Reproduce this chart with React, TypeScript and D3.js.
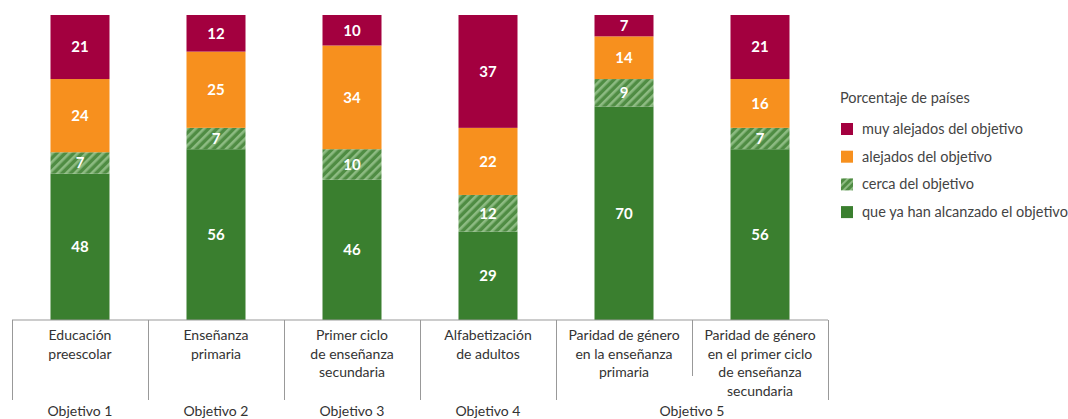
import React from "react";
import * as d3 from "d3";

const categories = [
  ["Educación", "preescolar"],
  ["Enseñanza", "primaria"],
  ["Primer ciclo", "de enseñanza", "secundaria"],
  ["Alfabetización", "de adultos"],
  ["Paridad de género", "en la enseñanza", "primaria"],
  ["Paridad de género", "en el primer ciclo", "de enseñanza", "secundaria"],
];
const goals = [
  { label: "Objetivo 1", from: 0, to: 0 },
  { label: "Objetivo 2", from: 1, to: 1 },
  { label: "Objetivo 3", from: 2, to: 2 },
  { label: "Objetivo 4", from: 3, to: 3 },
  { label: "Objetivo 5", from: 4, to: 5 },
];
const achieved = [48, 56, 46, 29, 70, 56];
const close = [7, 7, 10, 12, 9, 7];
const far = [24, 25, 34, 22, 14, 16];
const veryFar = [21, 12, 10, 37, 7, 21];
const seriesNames = [
  "muy alejados del objetivo",
  "alejados del objetivo",
  "cerca del objetivo",
  "que ya han alcanzado el objetivo",
];
const legendTitle = "Porcentaje de países";

const RED = "#a3003f";
const ORANGE = "#f7901e";
const GREEN = "#3a7f2f";
const FONT = "Lato, 'Open Sans', sans-serif";

export default function App() {
  const left = 12, right = 828, top = 15, base = 320;
  const x = d3.scaleBand<number>().domain(d3.range(categories.length)).range([left, right]);
  const y = d3.scaleLinear().domain([0, 100]).range([base, top]);
  const barW = 59;

  const stackKeys = ["achieved", "close", "far", "veryFar"];
  const rows = categories.map((_, i) => ({
    achieved: achieved[i], close: close[i], far: far[i], veryFar: veryFar[i],
  }));
  const stacked = d3.stack<any>().keys(stackKeys)(rows);
  const fills: Record<string, string> = {
    achieved: GREEN, close: "url(#hatch)", far: ORANGE, veryFar: RED,
  };

  const lineH = 18.5;
  const legendX = 840;
  const legendItems = [
    { name: seriesNames[0], fill: RED },
    { name: seriesNames[1], fill: ORANGE },
    { name: seriesNames[2], fill: "url(#hatchL)" },
    { name: seriesNames[3], fill: GREEN },
  ];

  return (
    <svg width={1068} height={419} style={{ position: "absolute", left: 0, top: 0 }} fontFamily={FONT}>
      <defs>
        <pattern id="hatch" patternUnits="userSpaceOnUse" width="6" height="6" patternTransform="rotate(45)">
          <rect width="6" height="6" fill="#4f8c43" />
          <rect width="2.6" height="6" fill="#8dbb82" />
        </pattern>
        <pattern id="hatchL" patternUnits="userSpaceOnUse" width="5" height="5" patternTransform="rotate(45)">
          <rect width="5" height="5" fill="#4f8c43" />
          <rect width="2" height="5" fill="#8dbb82" />
        </pattern>
      </defs>
      {stacked.map((layer) =>
        layer.map((d, i) => {
          const cx = (x(i) as number) + x.bandwidth() / 2;
          const y0 = y(d[1]);
          const y1 = y(d[0]);
          return (
            <g key={layer.key + i}>
              <rect x={cx - barW / 2} y={y0} width={barW} height={y1 - y0} fill={fills[layer.key]} />
              <text x={cx} y={(y0 + y1) / 2} dy="0.36em" textAnchor="middle" fill="#fff"
                fontWeight="bold" fontSize={15}>
                {d[1] - d[0]}
              </text>
            </g>
          );
        })
      )}
      <line x1={left} x2={right} y1={base} y2={base} stroke="#999" strokeWidth={1} />
      {d3.range(categories.length + 1).map((i) => {
        const xx = i === categories.length ? right : (x(i) as number);
        const isInner = i === 5;
        return (
          <line key={"v" + i} x1={xx + 0.5} x2={xx + 0.5} y1={base} y2={isInner ? 376 : 400}
            stroke="#999" strokeWidth={1} />
        );
      })}
      {categories.map((lines, i) => {
        const cx = (x(i) as number) + x.bandwidth() / 2;
        return (
          <text key={"c" + i} textAnchor="middle" fontSize={14} fill="#333">
            {lines.map((l, j) => (
              <tspan key={j} x={cx} y={340 + j * lineH}>{l}</tspan>
            ))}
          </text>
        );
      })}
      {goals.map((g, i) => {
        const cx = ((x(g.from) as number) + (x(g.to) as number) + x.bandwidth()) / 2;
        return (
          <text key={"g" + i} x={cx} y={416} textAnchor="middle" fontSize={14} fill="#333">
            {g.label}
          </text>
        );
      })}
      <text x={legendX} y={103} fontSize={14.5} fill="#444">{legendTitle}</text>
      {legendItems.map((it, i) => (
        <g key={"l" + i}>
          <rect x={legendX + 1} y={123 + i * 27.7} width={12} height={12} fill={it.fill} />
          <text x={legendX + 22} y={134 + i * 27.7} fontSize={14.5} fill="#444">{it.name}</text>
        </g>
      ))}
    </svg>
  );
}
